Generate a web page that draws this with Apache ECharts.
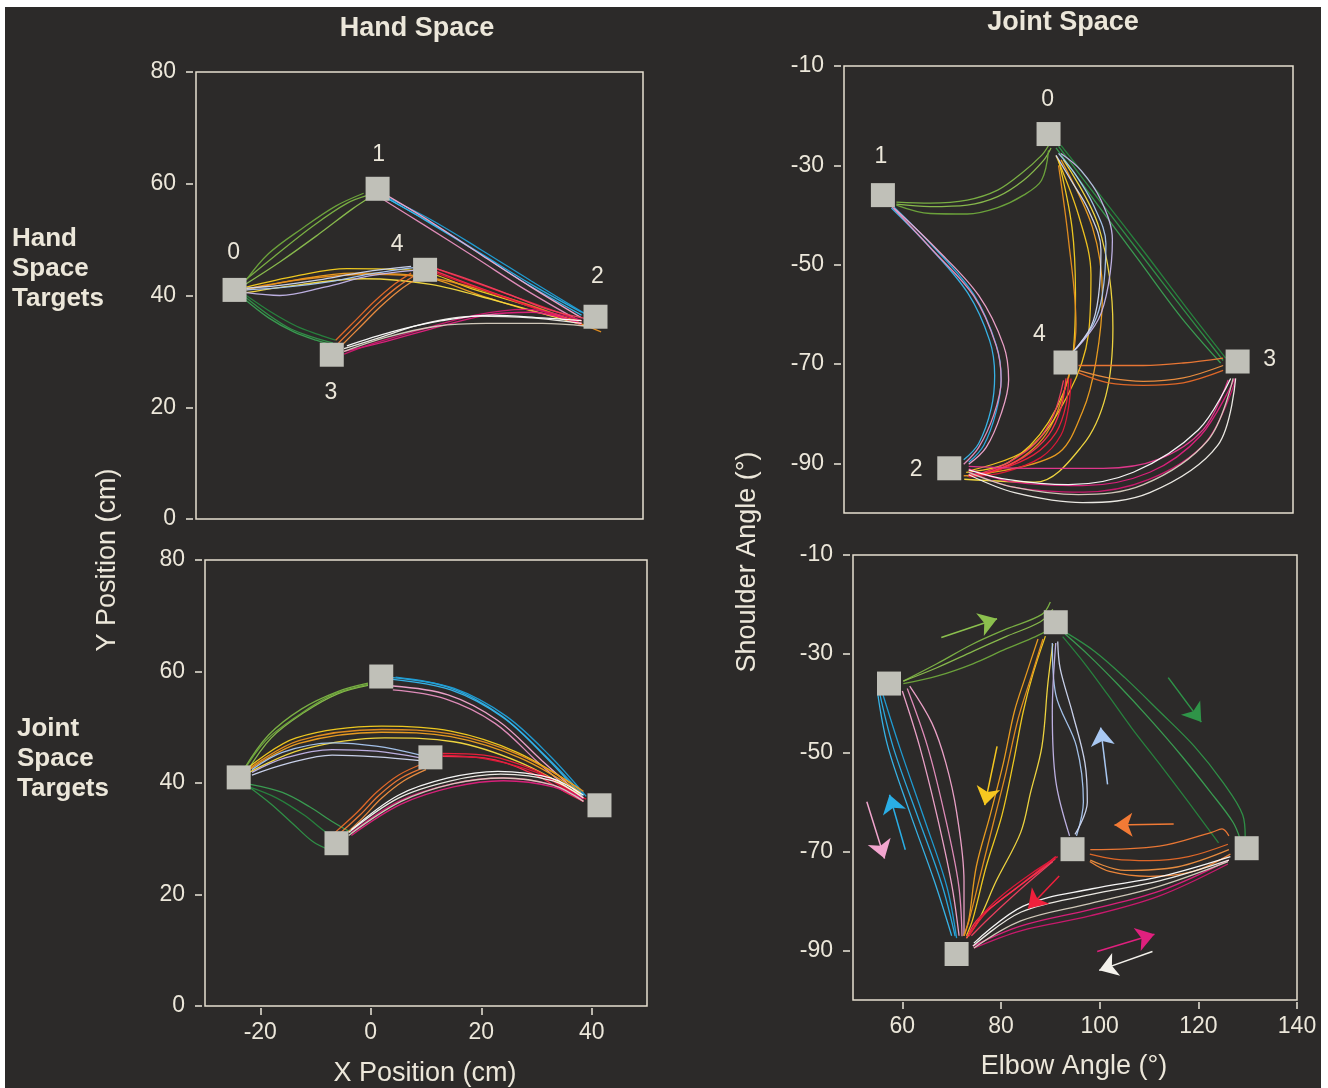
<!DOCTYPE html>
<html><head><meta charset="utf-8">
<script src="https://cdn.jsdelivr.net/npm/echarts@6/dist/echarts.min.js"></script>
<style>
html,body{margin:0;padding:0;background:#ffffff;}
#bg{position:absolute;left:5px;top:7px;width:1316px;height:1081px;background:#2c2a29;}
#chart{position:absolute;left:0;top:0;width:1328px;height:1088px;}
</style></head>
<body><div id="bg"></div><div id="chart"></div>
<script>
// ---------- tick labels ----------
const handXTicks = [-20, 0, 20, 40];
const handYTicks = [0, 20, 40, 60, 80];
const jointXTicks = [60, 80, 100, 120, 140];
const jointYTicks = [-90, -70, -50, -30, -10];
const targetNames = ['0', '1', '2', '3', '4'];

// ---------- Top-left: hand-space targets, plotted in hand space ----------
const hh_targets = [[-23.1,41.0],[2.5,59.1],[41.5,36.2],[-5.7,29.4],[11.0,44.6]];
const hh_1to0 = [
 [[-21.5,42.5],[-16,47],[-9,52.5],[-3,56.5],[1,58]],
 [[-21.5,41.8],[-15,46],[-8,51],[-2,55.5],[1.5,57.8]],
 [[-21,42.8],[-17,47.5],[-11,52],[-5,56],[0,58.3]]];
const hh_0to3 = [
 [[-21.5,40],[-17,36.5],[-13,34],[-9,32.5],[-5.5,31.5]],
 [[-21.5,39.5],[-17,36],[-12.5,33.5],[-8.5,32],[-5,31]],
 [[-21,40],[-16.5,37],[-12,34.5],[-8,33],[-5,32]]];
const hh_2to1 = [
 [[39,37],[30,42],[21,47.5],[12,53],[4,57.5]],
 [[39,36.5],[29,42.2],[20,48],[11,53.5],[3.5,57.8]],
 [[39.5,36.8],[30,42.6],[21,48.2],[12,53.6],[4.5,57.4]]];
const hh_1to2 = [
 [[4,58],[12,53.2],[21,47.3],[30,41.5],[39,36]],
 [[3,57.5],[11,52.5],[20,46.8],[29,41],[38.5,35.5]]];
const hh_0to2 = [
 [[-21,41.5],[-12,43.5],[-3,44.8],[9,44.5],[20,41],[30,38],[39,35]],
 [[-21,41],[-12,42.8],[-2,44],[10,43.5],[21,40],[31,37],[39,35.5]],
 [[-21,40.5],[-11,42],[0,43],[12,42],[24,39],[33,36.5],[40,34.5]],
 [[-21,41.2],[-10,43],[1,43.8],[13,43],[25,39.8],[34,36.8],[42.5,33.5]]];
const hh_4to0 = [
 [[9,45],[2,44],[-6,42.5],[-14,41.5],[-21,41]],
 [[9,44.5],[1,43.5],[-7,41.5],[-15,40],[-21,40.5]],
 [[8.5,45.2],[0,44.2],[-8,42.8],[-15,41.8],[-21,41.3]]];
const hh_3to4 = [
 [[-4.5,31.5],[-1,35],[2.5,38.5],[6,41.5],[9,43.5]],
 [[-4,31],[-0.5,34.5],[3,38],[6.5,41],[9.5,43]],
 [[-5,32],[-1.5,35.5],[2,39],[5.5,42],[8.5,44]]];
const hh_4to2 = [
 [[12.5,45],[18,43],[25,40.5],[32,38],[39,35.5]],
 [[12.5,44.5],[19,42],[26,39.5],[33,37],[39,35]],
 [[13,44],[20,41.5],[27,39],[34,36.5],[39,34.8]],
 [[13,44.8],[19,42.8],[26,40.2],[33,37.5],[40,35.8]]];
const hh_2to3 = [
 [[39,35],[30,37],[22,36.5],[12,34],[3,31.5],[-3.5,30]],
 [[39,35.5],[29,37.5],[20,36.5],[10,33.8],[2,31.5],[-3.5,29.5]]];
const hh_3to2 = [
 [[-3.5,30.5],[3,32.5],[11,35],[20,36.3],[30,36],[39,35]],
 [[-3.5,30],[4,32.5],[13,34.5],[22,35],[32,35],[40,34.5]],
 [[-3,31],[5,33.5],[14,35.5],[23,36.5],[32,36],[39,35.5]]];

// ---------- Bottom-left: joint-space targets, plotted in hand space ----------
const jh_targets = [[-23.9,41.0],[1.9,59.1],[41.4,36.0],[-6.2,29.2],[10.8,44.6]];
const jh_1to0 = [
 [[-23,42.4],[-18.5,48.6],[-12.5,53.3],[-6,56.4],[-0.5,57.9]],
 [[-22.5,41.9],[-18,48.1],[-12,52.7],[-6,56.0],[-0.5,57.5]],
 [[-23.5,41.4],[-19,47.6],[-13,52.2],[-7,55.8],[-0.5,57.7]]];
const jh_0to3 = [
 [[-22,39.3],[-18,36.2],[-14,32.6],[-10.5,29.5],[-7.5,28.0]],
 [[-22,39.8],[-16,38.3],[-11,35.7],[-7,33.1],[-3.5,31.1]],
 [[-22,39.3],[-17,37.3],[-12,34.2],[-8,31.1],[-5,29.5]]];
const jh_2to1 = [
 [[38.5,37.8],[31.5,45.0],[23.5,52.2],[14,57.2],[4,58.9]],
 [[38.5,37.3],[32,44.3],[24,51.7],[14.5,56.7],[4,58.6]],
 [[39,37.6],[32.5,44.8],[24.5,52.0],[15,57.0],[4.5,59.0]]];
const jh_1to2 = [
 [[4,57.4],[14,55.8],[23,51.2],[31,44.0],[38.5,37.3]],
 [[4,56.7],[13.5,55.1],[22.5,50.7],[30.5,43.5],[38,37.1]]];
const jh_0to2 = [
 [[-22,42.9],[-13.5,48.1],[2,50.2],[14.5,49.3],[26.5,45.5],[38,38.8]],
 [[-22,42.4],[-13,47.1],[2,49.1],[14.5,48.3],[27,44.5],[38,38.3]],
 [[-22,41.9],[-12.5,46.0],[2.5,48.1],[15,47.4],[27,43.7],[38,37.8]],
 [[-22,42.6],[-13,47.6],[2,49.6],[14.5,48.8],[27,45.0],[38.5,38.5]]];
const jh_4to0 = [
 [[9,45.0],[1,46.6],[-7,47.2],[-16,45.5],[-21.5,42.4]],
 [[9,44.5],[1,45.7],[-7,46.0],[-15.5,44.5],[-21.5,41.9]],
 [[9,44.0],[1,44.7],[-7,45.0],[-15,43.5],[-21.5,41.4]]];
const jh_3to4 = [
 [[-6,30.6],[-2,34.2],[1.5,37.8],[5.5,40.9],[10,42.9]],
 [[-5.5,30.0],[-1.5,33.7],[2,37.3],[6,40.4],[10,42.4]],
 [[-6.5,31.1],[-2.5,34.7],[1,38.3],[5,41.4],[9.5,43.5]]];
const jh_4to2 = [
 [[13,45.3],[20.5,45.0],[29.5,42.4],[35,39.3],[38.5,37.3]],
 [[13,44.8],[20.5,44.5],[29.5,41.6],[35,38.5],[38.5,36.7]],
 [[13,45.0],[21,44.3],[30,41.9],[35.5,38.8],[39,37.1]]];
const jh_2to3 = [
 [[38.5,36.7],[33,39.3],[24,40.4],[15,39.3],[5.5,36.2],[-3.5,30.6]],
 [[38.5,37.1],[32.5,39.8],[23.5,40.9],[14.5,39.8],[5,36.7],[-3.5,31.1]]];
const jh_3to2 = [
 [[-4,31.1],[5,37.3],[14.5,40.4],[23.5,41.6],[33,40.4],[38.5,37.3]],
 [[-4,30.6],[5.5,36.7],[15,39.9],[24,40.9],[33,39.6],[38.5,36.7]],
 [[-3.5,31.6],[5,37.8],[14,40.9],[23,42.1],[32.5,40.9],[38.5,37.8]]];

// ---------- Top-right: hand-space targets, plotted in joint space ----------
const hj_targets = [[91.0,-23.7],[57.8,-36.0],[71.1,-91.0],[128.9,-69.5],[94.4,-69.7]];
const hj_1to0 = [
 [[60.5,-37.4],[67.3,-37.6],[74.7,-37],[80.8,-35],[85.6,-31.6],[89.6,-28],[91,-26]],
 [[60.5,-37.8],[67.3,-38.3],[74.7,-38],[80.8,-36.3],[86,-33],[90,-29],[91.5,-26.5]],
 [[60.5,-38],[67.3,-39.7],[74.7,-39.8],[80.8,-38.5],[86,-36],[89.6,-33],[91,-27]]];
const hj_0to3 = [
 [[93,-26.2],[101,-36.8],[109.5,-47.9],[118,-59],[126,-69.3]],
 [[92.5,-26.5],[100.5,-37.5],[109,-49],[117.5,-60.5],[125.5,-69.8]],
 [[93.5,-26],[101.5,-36.2],[110,-47.2],[118.5,-58.5],[126.5,-68.8]]];
const hj_2to1 = [
 [[75,-89.8],[78,-86.4],[80.5,-79.6],[81.5,-72.9],[80.5,-66.1],[76,-56],[68,-46.5],[60,-38.4]],
 [[74,-89.3],[77,-86],[79.5,-79],[80.2,-72.3],[79.2,-65.3],[74.8,-55.7],[67,-46.3],[59.5,-38.6]]];
const hj_1to2 = [
 [[60,-38.6],[68.5,-46.8],[77,-56.2],[82,-66.3],[83,-73.2],[81.5,-80],[78.5,-86.8],[75,-90.2]],
 [[59.5,-38.2],[67.5,-46.8],[76,-56.3],[80.5,-66.3],[81.5,-73.3],[80,-80.3],[77,-86.8],[74,-90.2]]];
const hj_0to2 = [
 [[93,-28.9],[95.7,-42.5],[96.4,-56],[95.7,-69.5],[91,-81.7],[83,-89.8],[74.5,-91.8]],
 [[93.5,-28.9],[99.8,-42.5],[101.8,-56],[100.5,-69.5],[97.8,-79.6],[92.3,-88.4],[74.7,-92.5]],
 [[94,-28.9],[101.1,-42.5],[103.9,-62.7],[102.5,-76.3],[97.8,-86.4],[88.3,-93.8],[74.1,-93.2]],
 [[93,-30],[95,-45],[96.5,-62],[94,-76],[89,-86],[79,-92],[74,-92.5]],
 [[92.5,-28],[97,-40],[99.5,-52],[99,-64],[95,-76],[87,-87],[75,-91.5]]];
const hj_4to0 = [
 [[96,-67.5],[100,-62],[101.8,-56],[102.5,-45.8],[100,-38],[96.5,-32],[93,-27.6]],
 [[96.5,-67],[101,-61],[103,-54],[103.8,-45],[101.5,-37],[97.5,-31],[93.5,-27.6]],
 [[95.5,-68],[99.5,-62.5],[101,-56.5],[101.5,-47],[99,-39],[95.5,-33],[92.5,-28]]];
const hj_3to4 = [
 [[126,-68.8],[118,-69.8],[110,-70.3],[103,-70.3],[97,-70.3]],
 [[126,-70.3],[118,-72.8],[110,-73.5],[103,-72.8],[97,-71.3]],
 [[126,-71.3],[118,-73.8],[110,-74.3],[103,-73.8],[97,-71.8]]];
const hj_4to2 = [
 [[95,-72.9],[94.5,-78.3],[92.5,-83.8],[88,-88.3],[81,-91.3],[75,-92.3]],
 [[94.5,-72.9],[93.5,-78.8],[91,-84.3],[86,-88.8],[79,-91.8],[75,-92.5]],
 [[95.5,-72.9],[95,-78.8],[93.5,-84.3],[89.5,-88.8],[82,-91.8],[75,-92.7]],
 [[94,-73.3],[92,-80.3],[88.5,-85.8],[83,-89.8],[78,-91.8],[75,-92.3]]];
const hj_2to3 = [
 [[75,-91.1],[84.2,-93.8],[97.8,-94.5],[111.3,-91.8],[121.5,-84.4],[128.3,-72.9]],
 [[75,-91.6],[84,-94.8],[98,-95.8],[111,-93.3],[122.5,-85.8],[128.5,-73.2]],
 [[75,-90.6],[88,-91],[102,-91],[113,-89.2],[122,-83.2],[127,-73.2]]];
const hj_3to2 = [
 [[128.5,-72.9],[124.9,-86.4],[111.3,-95.9],[97.8,-97.9],[84.2,-95.9],[75,-92.3]],
 [[128,-72.9],[123,-85.3],[110,-94.3],[97,-96.3],[84,-94.8],[75,-91.8]],
 [[127.5,-72.9],[121,-83.3],[108,-91.8],[95,-94.3],[83,-93.3],[75,-91.3]]];

// ---------- Bottom-right: joint-space targets, plotted in joint space ----------
const jj_targets = [[91.1,-23.6],[57.3,-36.0],[71.0,-90.7],[129.8,-69.3],[94.5,-69.5]];
const jj_1to0 = [
 [[60.2,-35.5],[67,-32],[74.3,-28],[81,-25],[88.3,-22],[90,-19.5]],
 [[60.2,-35.5],[67,-32.8],[74.3,-29.5],[81,-26.5],[88,-23.5],[90.5,-21]],
 [[60.2,-36],[67,-34.5],[74.3,-32],[81,-29],[87,-26.5],[90,-25]]];
const jj_0to3 = [
 [[93.2,-25.7],[99,-29.5],[105.1,-34.8],[112,-41.5],[119.2,-48.7],[125,-56],[129,-62.6],[129.5,-67]],
 [[93,-26],[98,-30.5],[103.5,-36],[110,-43],[116.5,-50.5],[122.5,-58],[127,-64],[128.5,-67.5]],
 [[92.5,-26.5],[97,-32],[101.6,-38.2],[106.5,-45],[112.1,-52.2],[118,-60],[124.1,-68.2]]];
const jj_2to1 = [
 [[70.7,-87.1],[68,-76.6],[63,-62.6],[58.1,-48.7],[55.3,-37.5]],
 [[70,-87],[66.5,-76],[61.5,-62],[57,-48.5],[55,-38]],
 [[71,-87.5],[69,-77],[64.5,-63.5],[59.5,-49],[56,-38]]];
const jj_1to2 = [
 [[60,-37.5],[63.5,-48.7],[67,-62.6],[70,-76.6],[71.5,-87]],
 [[61,-37],[65.1,-48.7],[68.6,-62.6],[71.4,-76.6],[72.1,-87.1]],
 [[61.5,-36.5],[66,-44],[68.8,-52],[71,-62],[72.5,-76],[72.5,-87]]];
const jj_0to2 = [
 [[89,-26.4],[86.5,-34],[84.5,-41.7],[82.5,-52],[80.2,-62.6],[77,-73],[74.3,-83.6],[73,-87]],
 [[87.5,-27],[85,-34.5],[82.7,-41.7],[80.5,-52],[77.8,-62.6],[75,-73],[73.5,-83.6],[72.5,-87]],
 [[90.5,-28],[89.5,-36],[88.3,-48.7],[86,-58],[84,-66.1],[79,-76],[75.6,-83.6],[73,-87.5]],
 [[88.5,-27],[86,-35],[83.5,-43],[81,-54],[78.5,-64],[76,-74],[73.5,-84],[72.5,-87]]];
const jj_4to0 = [
 [[95.3,-66.8],[96.7,-59.9],[95.3,-48.7],[91.1,-38.2],[90.4,-27.8]],
 [[93.9,-66.8],[91.1,-55.7],[90.4,-41.7],[91.1,-27.8]],
 [[95,-66.5],[97.5,-60],[97,-52],[94.5,-42],[92,-33],[91.5,-27.5]]];
const jj_3to4 = [
 [[126.2,-66.8],[124.8,-65.4],[122.7,-66.1],[112.1,-68.9],[98.1,-69.6]],
 [[126.2,-69.6],[115.7,-73.1],[105.1,-73.8],[98.1,-71.7]],
 [[126,-68.5],[118,-71],[110,-71.8],[103,-71.5],[98,-70.5]],
 [[126.5,-70.5],[119,-74],[110,-75],[102,-74],[98,-72]]];
const jj_4to2 = [
 [[91.1,-71],[84.1,-76.6],[77.1,-82.2],[73.5,-87.1]],
 [[91,-71.5],[85,-76],[79,-80.5],[75,-84],[73,-87.5]],
 [[91.5,-71],[86,-74.5],[80,-79],[76,-83],[73.5,-87]],
 [[90.5,-72],[83.5,-78],[77.5,-83.5],[74,-87]]];
const jj_2to3 = [
 [[74.3,-89.1],[84.1,-85],[98.1,-81.7],[112.1,-78],[126.2,-71.7]],
 [[74.5,-89.5],[84,-86],[98,-83],[112,-79],[126,-72.5]]];
const jj_3to2 = [
 [[126.2,-71.7],[112.1,-75.9],[98.1,-78.7],[84.1,-82.2],[74.3,-89.1]],
 [[126,-72],[112,-77],[98,-80.5],[84,-84],[74.5,-89.5]],
 [[126.5,-71],[112.5,-75],[98.5,-77.5],[84.5,-81],[74.5,-88.5]]];
// direction arrows in the bottom-right panel: [x1, y1, x2, y2]
const jj_arrows = [
 [67.9,-26.7,79.2,-22.9], [113.9,-34.8,120.6,-43.8], [101.6,-56.4,100.2,-44.9],
 [79.2,-48.7,76.7,-60.6], [115,-64.4,103,-64.6], [60.6,-69.6,57.4,-58.5],
 [52.8,-59.9,56.4,-71.4], [91.8,-74.9,85.5,-81.5], [99.5,-90.2,111.1,-86.7],
 [110.7,-90.2,99.9,-94.0]];

// ---------- styles ----------
const MOVES = ['1to0','0to3','2to1','1to2','0to2','4to0','3to4','4to2','2to3','3to2'];
const MOVE_COLORS = {
 '1to0': ['#7db544','#8cc04e','#6fa83c'],
 '0to3': ['#2f9448','#3aa052','#27853e'],
 '2to1': ['#2aaee6','#38b8ee','#1f9fd8'],
 '1to2': ['#f3a6cf','#e890c0'],
 '0to2': ['#f7d020','#f0a020','#f8dc40','#e89020','#f7c820'],
 '4to0': ['#a9c8f2','#c4b6ea','#d0d8f2'],
 '3to4': ['#f27a35','#f09040','#e86a28','#f58a3a'],
 '4to2': ['#f0203c','#ff3050','#e01838','#f04060'],
 '2to3': ['#e0207e','#d01870','#e83890'],
 '3to2': ['#f4f2ec','#d8d0c0','#ffffff']
};
const ARROW_COLORS = ['#8cc04e','#2f9448','#a9c8f2','#f7c820','#f27a35','#2aaee6','#f3a6cf','#f0203c','#e0207e','#f4f2ec'];
const FG = '#ece7da';
const FONT = "'Liberation Sans', Arial, Helvetica, sans-serif";

const PANELS = [
 {targets: hh_targets, moves: {'1to0':hh_1to0,'0to3':hh_0to3,'2to1':hh_2to1,'1to2':hh_1to2,'0to2':hh_0to2,'4to0':hh_4to0,'3to4':hh_3to4,'4to2':hh_4to2,'2to3':hh_2to3,'3to2':hh_3to2},
  labelOffsets: [[-1,-37],[1,-34],[2,-40],[-1,38],[-28,-25]]},
 {targets: jh_targets, moves: {'1to0':jh_1to0,'0to3':jh_0to3,'2to1':jh_2to1,'1to2':jh_1to2,'0to2':jh_0to2,'4to0':jh_4to0,'3to4':jh_3to4,'4to2':jh_4to2,'2to3':jh_2to3,'3to2':jh_3to2},
  labelOffsets: null},
 {targets: hj_targets, moves: {'1to0':hj_1to0,'0to3':hj_0to3,'2to1':hj_2to1,'1to2':hj_1to2,'0to2':hj_0to2,'4to0':hj_4to0,'3to4':hj_3to4,'4to2':hj_4to2,'2to3':hj_2to3,'3to2':hj_3to2},
  labelOffsets: [[-1,-34],[-2,-38],[-33,1],[32,-2],[-26,-28]]},
 {targets: jj_targets, moves: {'1to0':jj_1to0,'0to3':jj_0to3,'2to1':jj_2to1,'1to2':jj_1to2,'0to2':jj_0to2,'4to0':jj_4to0,'3to4':jj_3to4,'4to2':jj_4to2,'2to3':jj_2to3,'3to2':jj_3to2},
  labelOffsets: null}
];

const grids = [
 {left:196, top:72, width:447, height:447},
 {left:205, top:560, width:442, height:446},
 {left:844, top:66, width:449, height:447},
 {left:853, top:555, width:444, height:445}
].map(g => Object.assign(g, {show:true, borderColor:'#e6e0d0', borderWidth:1.5, backgroundColor:'transparent'}));

function xAxisCfg(gi, min, max, ticks) {
  const show = !!ticks;
  return {type:'value', gridIndex:gi, min:min, max:max, offset:2, position:'bottom',
    axisLine:{show:false, onZero:false}, splitLine:{show:false},
    axisTick:{show:show, length:7, inside:false, customValues: ticks || [], lineStyle:{color:FG, width:1.5}},
    axisLabel:{show:show, customValues: ticks || [], color:FG, fontSize:23, fontFamily:FONT, margin:13}};
}
function yAxisCfg(gi, min, max, ticks) {
  return {type:'value', gridIndex:gi, min:min, max:max, offset:3, position:'left',
    axisLine:{show:false, onZero:false}, splitLine:{show:false},
    axisTick:{show:true, length:7, inside:false, customValues: ticks, lineStyle:{color:FG, width:1.5}},
    axisLabel:{show:true, customValues: ticks, color:FG, fontSize:23, fontFamily:FONT, margin:17}};
}

const xAxes = [
  xAxisCfg(0, -30, 50, null),
  xAxisCfg(1, -30, 50, handXTicks),
  xAxisCfg(2, 50, 140, null),
  xAxisCfg(3, 50, 140, jointXTicks)
];
const yAxes = [
  yAxisCfg(0, 0, 80, handYTicks),
  yAxisCfg(1, 0, 80, handYTicks),
  yAxisCfg(2, -100, -10, jointYTicks),
  yAxisCfg(3, -100, -10, jointYTicks)
];

const series = [];
PANELS.forEach((p, gi) => {
  MOVES.forEach(mv => {
    const cols = MOVE_COLORS[mv];
    p.moves[mv].forEach((trace, ti) => {
      series.push({type:'line', xAxisIndex:gi, yAxisIndex:gi, data:trace, smooth:0.35,
        symbol:'none', silent:true, z:2,
        lineStyle:{color:cols[ti % cols.length], width:1.3, opacity:0.95}});
    });
  });
  series.push({type:'scatter', xAxisIndex:gi, yAxisIndex:gi, symbol:'rect', symbolSize:24, z:10, silent:true,
    itemStyle:{color:'#c0c0b8', opacity:1},
    label:{show: !!p.labelOffsets, formatter:'{b}', position:'inside', color:FG, fontSize:23, fontFamily:FONT},
    data: p.targets.map((t, i) => ({value:t, name:targetNames[i],
      label: p.labelOffsets ? {offset:p.labelOffsets[i]} : {show:false}}))});
});
series.push({type:'lines', coordinateSystem:'cartesian2d', xAxisIndex:3, yAxisIndex:3, z:5, silent:true,
  symbol:['none','arrow'], symbolSize:[14,18],
  data: jj_arrows.map((a, i) => ({coords:[[a[0],a[1]],[a[2],a[3]]],
    lineStyle:{color:ARROW_COLORS[i], width:1.5, opacity:1}}))});

const txt = (t, x, y, size, weight, extra) => Object.assign({type:'text', x:x, y:y, silent:true,
  style:{text:t, fill:FG, font: weight + ' ' + size + 'px ' + FONT, textAlign:'center', textVerticalAlign:'middle'}}, extra || {});

const graphic = [
  txt('Hand Space', 417, 29, 27, 'bold'),
  txt('Joint Space', 1063, 23, 27, 'bold'),
  {type:'text', x:12, y:224, silent:true, style:{text:'Hand\nSpace\nTargets', fill:FG, font:'bold 26px ' + FONT, lineHeight:30, textAlign:'left', textVerticalAlign:'top'}},
  {type:'text', x:17, y:714, silent:true, style:{text:'Joint\nSpace\nTargets', fill:FG, font:'bold 26px ' + FONT, lineHeight:30, textAlign:'left', textVerticalAlign:'top'}},
  txt('Y Position (cm)', 108, 560, 27, 'normal', {rotation: Math.PI/2}),
  txt('Shoulder Angle (°)', 748, 562, 27, 'normal', {rotation: Math.PI/2}),
  txt('X Position (cm)', 425, 1074, 27, 'normal'),
  txt('Elbow Angle (°)', 1074, 1067, 27, 'normal')
];

const chart = echarts.init(document.getElementById('chart'), null, {renderer:'canvas'});
chart.setOption({
  animation:false,
  backgroundColor:'transparent',
  grid: grids, xAxis: xAxes, yAxis: yAxes, series: series, graphic: graphic
});
</script></body></html>
